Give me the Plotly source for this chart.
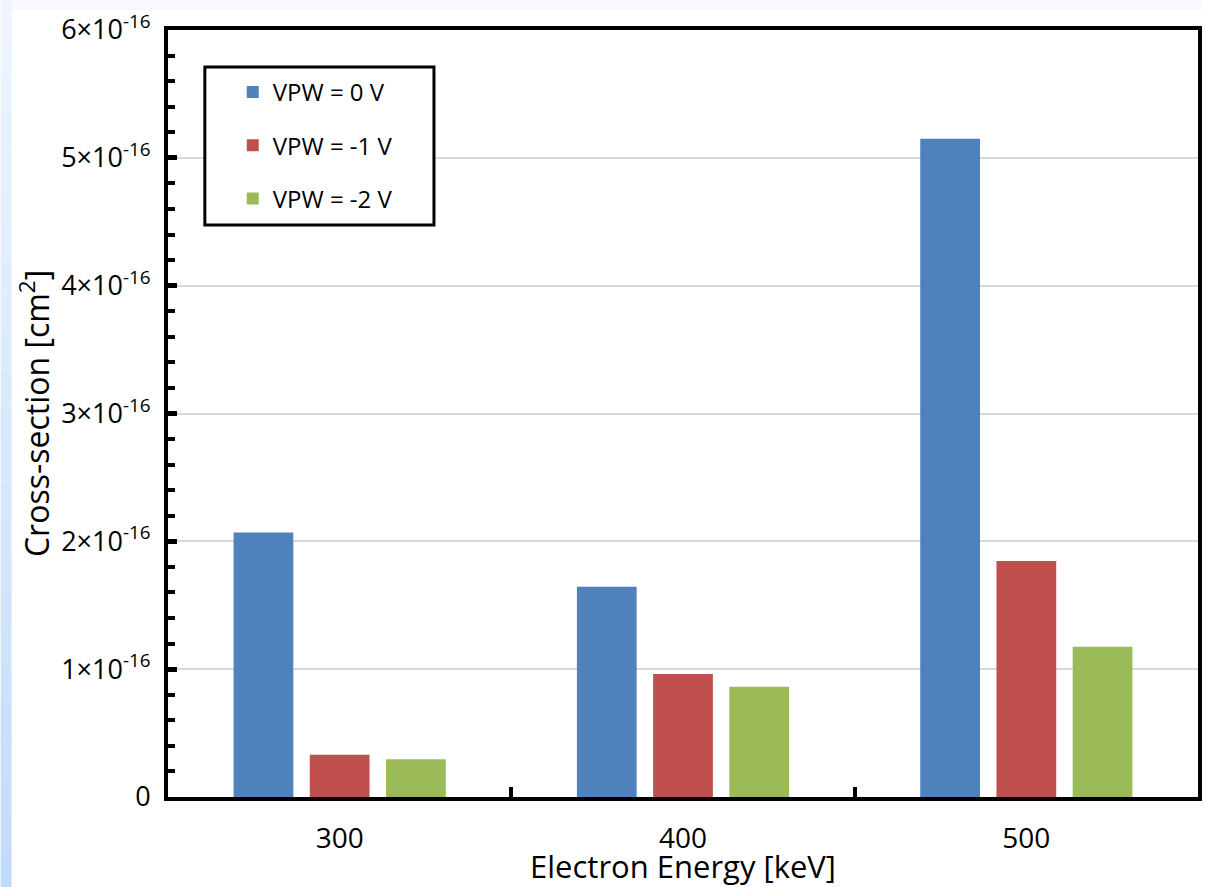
import plotly.graph_objects as go

# Electron energy categories and measured cross-sections (cm^2)
energies = ["300", "400", "500"]
series_names = ["VPW = 0 V", "VPW = -1 V", "VPW = -2 V"]
vpw_0v = [2.07e-16, 1.645e-16, 5.15e-16]
vpw_m1v = [0.33e-16, 0.963e-16, 1.847e-16]
vpw_m2v = [0.296e-16, 0.862e-16, 1.175e-16]
series_values = [vpw_0v, vpw_m1v, vpw_m2v]
series_colors = ["#4f81bd", "#c0504d", "#9bbb59"]

y_tick_values = [0, 1e-16, 2e-16, 3e-16, 4e-16, 5e-16, 6e-16]
y_tick_labels = ["0"] + [f"{k}×10<sup>-16</sup>" for k in range(1, 7)]

FONT = "'Open Sans', Lato, sans-serif"

fig = go.Figure()
for i, (name, vals, col) in enumerate(zip(series_names, series_values, series_colors)):
    fig.add_trace(go.Bar(
        x=energies, y=vals, name=name,
        marker=dict(color=col, line=dict(width=0)),
        legendgroup=f"g{i}",
    ))

W, H = 1206, 887
L, R, T, B = 168, 4, 30, 90
pw, ph = W - L - R, H - T - B


def px_x(p):
    return (p - L) / pw


def px_y(p):
    return (H - B - p) / ph


shapes = []
# faint band along the top of the page
shapes.append(dict(type="rect", xref="paper", yref="paper",
                   x0=px_x(0), x1=px_x(W), y0=px_y(10), y1=px_y(0),
                   fillcolor="#f7f9fe", line=dict(width=0), layer="below"))
# light blue strip down the left edge, darkening toward the bottom
top_rgb = (0xee, 0xf5, 0xfe)
bot_rgb = (0xc1, 0xdc, 0xfb)
n_bands = 24
for k in range(n_bands):
    f = k / (n_bands - 1)
    c = tuple(round(a + (b - a) * f) for a, b in zip(top_rgb, bot_rgb))
    y0p = H * k / n_bands
    y1p = H * (k + 1) / n_bands
    shapes.append(dict(type="rect", xref="paper", yref="paper",
                       x0=px_x(0), x1=px_x(11), y0=px_y(y1p), y1=px_y(y0p),
                       fillcolor=f"rgb{c}", line=dict(width=0), layer="below"))
# legend frame
shapes.append(dict(type="rect", xref="paper", yref="paper",
                   x0=px_x(205), x1=px_x(435), y0=px_y(225), y1=px_y(67),
                   fillcolor="white", line=dict(color="black", width=3), layer="above"))

fig.update_layout(
    width=W, height=H,
    margin=dict(l=L, r=R, t=T, b=B),
    paper_bgcolor="white", plot_bgcolor="white",
    font=dict(family=FONT, color="black"),
    barmode="group", bargap=0.334, bargroupgap=0.216,
    showlegend=True,
    legend=dict(
        x=px_x(233), y=px_y(70), xanchor="left", yanchor="top",
        bgcolor="rgba(0,0,0,0)", borderwidth=0,
        font=dict(size=24, family=FONT),
        tracegroupgap=19, traceorder="grouped",
    ),
    shapes=shapes,
)

fig.update_xaxes(
    type="category", tickson="boundaries",
    ticks="inside", ticklen=10, tickwidth=4, tickcolor="black",
    showline=True, linewidth=4, linecolor="black", mirror=True,
    showgrid=False,
    tickfont=dict(size=28, family=FONT),
    ticklabelstandoff=13,
    title=dict(text="Electron Energy [keV]", font=dict(size=31, family=FONT), standoff=1),
)
fig.update_yaxes(
    range=[0, 6e-16],
    tickvals=y_tick_values, ticktext=y_tick_labels,
    ticks="inside", ticklen=9, tickwidth=5, tickcolor="black",
    minor=dict(dtick=0.2e-16, ticks="inside", ticklen=7, tickwidth=4,
               tickcolor="black", showgrid=False),
    showline=True, linewidth=4, linecolor="black", mirror=True,
    showgrid=True, gridcolor="#d9d9d9", gridwidth=1.5,
    zeroline=False,
    tickfont=dict(size=27, family=FONT),
    ticklabelstandoff=8,
    title=dict(text="Cross-section [cm<sup>2</sup>]", font=dict(size=32, family=FONT), standoff=3),
)

fig.write_html("out.html")
